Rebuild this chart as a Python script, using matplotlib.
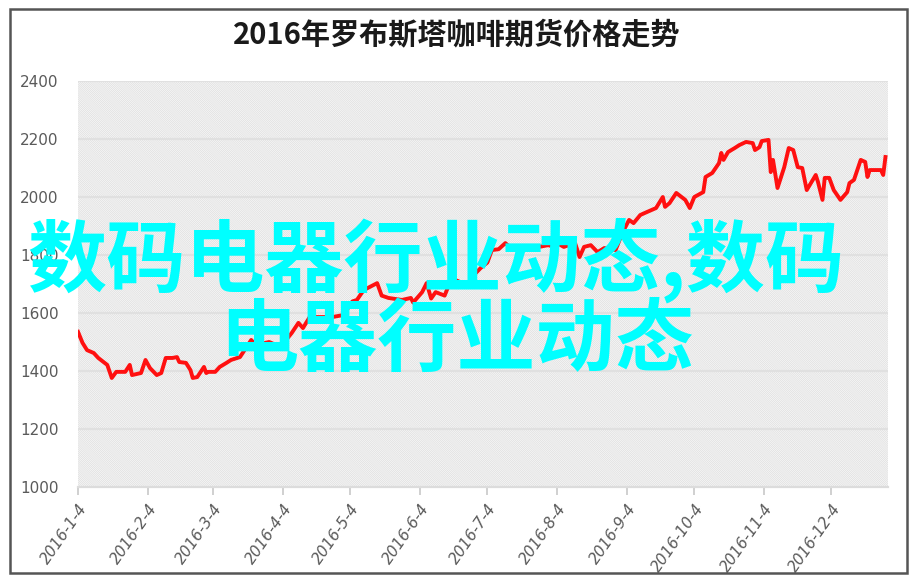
import pandas as pd
import matplotlib.pyplot as plt
from matplotlib.patches import Rectangle

# robusta coffee futures 2016
dates = ["2016-01-04", "2016-01-06", "2016-01-08", "2016-01-11", "2016-01-13", "2016-01-17",
         "2016-01-19", "2016-01-21", "2016-01-25", "2016-01-27", "2016-01-28", "2016-02-01",
         "2016-02-03", "2016-02-05", "2016-02-08", "2016-02-10", "2016-02-12", "2016-02-15",
         "2016-02-17", "2016-02-18", "2016-02-21", "2016-02-23", "2016-02-24", "2016-02-26",
         "2016-02-29", "2016-03-01", "2016-03-02", "2016-03-05", "2016-03-07", "2016-03-10",
         "2016-03-12", "2016-03-16", "2016-03-21", "2016-03-23", "2016-03-29", "2016-04-03",
         "2016-04-08", "2016-04-11", "2016-04-13", "2016-04-16", "2016-04-26", "2016-05-01",
         "2016-05-05", "2016-05-07", "2016-05-10", "2016-05-16", "2016-05-18", "2016-05-21",
         "2016-05-27", "2016-05-31", "2016-06-01", "2016-06-05", "2016-06-07", "2016-06-09",
         "2016-06-11", "2016-06-15", "2016-06-18", "2016-06-21", "2016-06-25", "2016-06-28",
         "2016-07-01", "2016-07-04", "2016-07-06", "2016-07-09", "2016-07-12", "2016-07-15",
         "2016-07-19", "2016-07-22", "2016-07-27", "2016-07-31", "2016-08-03", "2016-08-04",
         "2016-08-07", "2016-08-12", "2016-08-14", "2016-08-16", "2016-08-19", "2016-08-22",
         "2016-08-25", "2016-08-30", "2016-09-02", "2016-09-05", "2016-09-07", "2016-09-10",
         "2016-09-12", "2016-09-15", "2016-09-17", "2016-09-20", "2016-09-21", "2016-09-23",
         "2016-09-26", "2016-09-30", "2016-10-02", "2016-10-04", "2016-10-08", "2016-10-09",
         "2016-10-12", "2016-10-15", "2016-10-16", "2016-10-17", "2016-10-19", "2016-10-22",
         "2016-10-24", "2016-10-27", "2016-10-30", "2016-10-31", "2016-11-02", "2016-11-03",
         "2016-11-06", "2016-11-07", "2016-11-08", "2016-11-10", "2016-11-13", "2016-11-15",
         "2016-11-17", "2016-11-19", "2016-11-21", "2016-11-23", "2016-11-27", "2016-11-28",
         "2016-11-30", "2016-12-01", "2016-12-03", "2016-12-05", "2016-12-08", "2016-12-11",
         "2016-12-12", "2016-12-14", "2016-12-17", "2016-12-19", "2016-12-20", "2016-12-21",
         "2016-12-26", "2016-12-27", "2016-12-28"]
prices = [1535, 1497, 1472, 1462, 1445, 1421,
          1376, 1397, 1397, 1421, 1386, 1393,
          1438, 1410, 1386, 1393, 1445, 1445,
          1448, 1431, 1428, 1403, 1376, 1379,
          1414, 1393, 1397, 1397, 1414, 1428,
          1438, 1448, 1507, 1490, 1500, 1483,
          1531, 1566, 1548, 1586, 1586, 1593,
          1640, 1645, 1679, 1703, 1660, 1652,
          1645, 1652, 1636, 1672, 1703, 1650,
          1672, 1660, 1718, 1710, 1690, 1731,
          1755, 1774, 1817, 1820, 1841, 1820,
          1817, 1824, 1828, 1834, 1828, 1841,
          1828, 1841, 1793, 1828, 1834, 1810,
          1824, 1817, 1876, 1921, 1910, 1938,
          1945, 1955, 1962, 2000, 1966, 1979,
          2014, 1990, 1962, 2000, 2017, 2069,
          2083, 2117, 2152, 2128, 2155, 2169,
          2179, 2190, 2186, 2162, 2172, 2193,
          2197, 2086, 2128, 2031, 2103, 2169,
          2162, 2103, 2100, 2024, 2076, 2052,
          1990, 2066, 2066, 2024, 1990, 2017,
          2048, 2059, 2128, 2121, 2069, 2093,
          2093, 2076, 2138]
tick_dates = ["2016-01-04", "2016-02-04", "2016-03-04", "2016-04-04", "2016-05-04", "2016-06-04",
              "2016-07-04", "2016-08-04", "2016-09-04", "2016-10-04", "2016-11-04", "2016-12-04"]
tick_labels = ["2016-1-4", "2016-2-4", "2016-3-4", "2016-4-4", "2016-5-4", "2016-6-4",
               "2016-7-4", "2016-8-4", "2016-9-4", "2016-10-4", "2016-11-4", "2016-12-4"]
y_ticks = [1000, 1200, 1400, 1600, 1800, 2000, 2200, 2400]
title = "2016年罗布斯塔咖啡期货价格走势"
watermark_1 = "数码电器行业动态,数码"
watermark_2 = "电器行业动态"

plt.rcParams['font.family'] = ['Noto Sans CJK SC', 'DejaVu Sans']
plt.rcParams['hatch.color'] = '#e2e2e2'
plt.rcParams['hatch.linewidth'] = 0.7

x = pd.to_datetime(dates)

fig = plt.figure(figsize=(9.18, 5.83), dpi=100)
ax = fig.add_axes([0.085, 0.1647, 0.882, 0.6963])

#hatched plot area
ax.add_patch(Rectangle((0, 0), 1, 1, transform=ax.transAxes, facecolor='white',
                       edgecolor='#e2e2e2', linewidth=0, hatch='\\' * 16, zorder=0))
for v in y_ticks[1:]:
    ax.axhline(v, color='#e0e0e0', linewidth=1.6, zorder=1)

ax.plot(x, prices, color='#ff1010', linewidth=2.8, zorder=3)

ax.set_ylim(1000, 2400)
ax.set_xlim(pd.Timestamp("2016-01-04"), pd.Timestamp("2016-12-29"))
ax.set_yticks(y_ticks)
ax.set_yticklabels([str(v) for v in y_ticks], family=['Liberation Sans Narrow', 'DejaVu Sans'],
                   fontsize=11, color='#5a5a5a')
ax.set_xticks(pd.to_datetime(tick_dates))
ax.set_xticklabels(tick_labels, rotation=55, ha='right', rotation_mode='anchor',
                   family=['Liberation Sans Narrow', 'DejaVu Sans'], fontsize=11,
                   color='#5a5a5a', style='italic')
ax.tick_params(axis='y', length=0, pad=14)
ax.tick_params(axis='x', length=6, color='#c8c8c8', width=1.2, pad=4)
for s in ['top', 'right', 'left']:
    ax.spines[s].set_visible(False)
ax.spines['bottom'].set_color('#dcdcdc')
ax.spines['bottom'].set_linewidth(1.6)

fig.text(0.497, 0.94, title, ha='center', va='center', fontsize=21, color='#1a1a1a',
         weight='bold')

# cyan overlay text
fig.text(0.030, 0.553, watermark_1, ha='left', va='center', fontsize=57, color='#00ffff',
         weight='bold')
fig.text(0.239, 0.415, watermark_2, ha='left', va='center', fontsize=57, color='#00ffff',
         weight='bold')

# outer frame
fig.patches.append(Rectangle((10 / 918, 1 - 573 / 583), 897 / 918, 564 / 583,
                             transform=fig.transFigure, fill=False, edgecolor='#555555',
                             linewidth=1.8))

fig.savefig('out.png', dpi=100)
